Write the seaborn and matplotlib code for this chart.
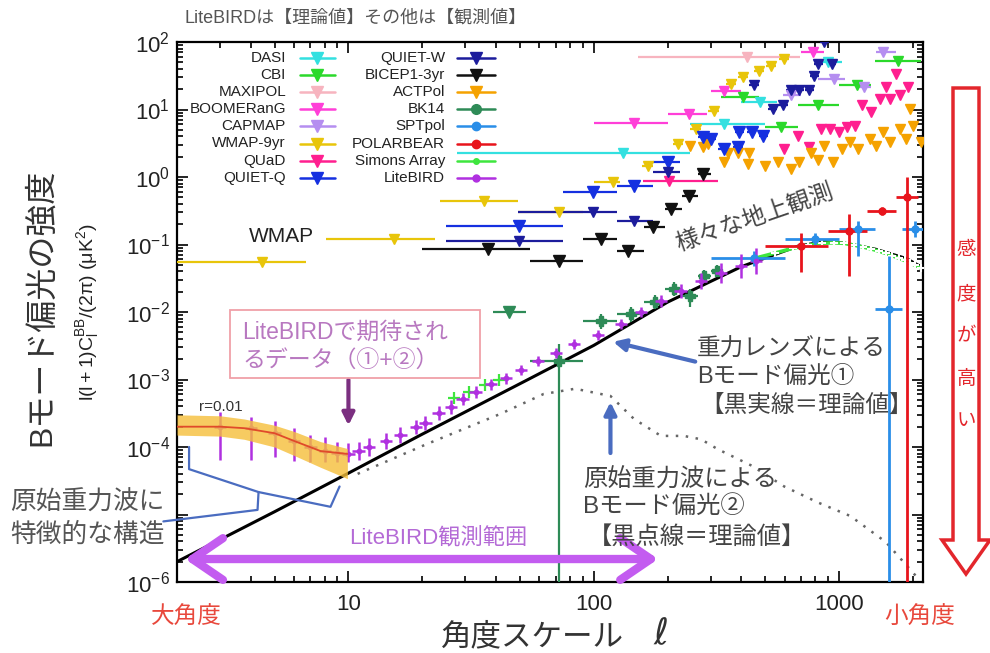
import numpy as np
import pandas as pd
import matplotlib
matplotlib.use("Agg")
import matplotlib.pyplot as plt
import seaborn as sns
from matplotlib.lines import Line2D
from matplotlib.patches import Rectangle, Polygon, FancyArrowPatch, ArrowStyle

# ------------------------------------------------------------------ data
# theory: lensing B-mode (solid) and primordial r=0.01 (dotted)
lens_ell = [2, 5, 10, 20, 54, 100, 200, 400, 683, 871, 1050, 1412, 1882, 2200]
lens_val = [2.0e-6, 1.1e-5, 4.1e-5, 1.55e-4, 1.0e-3, 3.2e-3, 0.014, 0.047, 0.095, 0.11, 0.105, 0.085, 0.062, 0.045]
prim_ell = [10.9, 20.8, 41.7, 62.5, 84, 117, 146, 188, 233, 274, 320, 440, 598, 823, 1112, 1553, 2070]
prim_val = [4e-5, 1.1e-4, 3.1e-4, 6.1e-4, 7.3e-4, 5.7e-4, 2.6e-4, 1.46e-4, 1.46e-4, 1.3e-4, 9.3e-5,
            5.3e-5, 2.6e-5, 1.5e-5, 9.5e-6, 3.9e-6, 1.2e-6]

# r=0.01 band at low ell
band_ell = [2, 3, 3.76, 5, 6, 7.7, 9.9]
band_mid = [2.0e-4, 2.0e-4, 1.9e-4, 1.6e-4, 1.23e-4, 8.7e-5, 7.9e-5]
band_hi = [3.0e-4, 2.9e-4, 2.6e-4, 2.1e-4, 1.7e-4, 1.2e-4, 9.5e-5]
band_lo = [1.5e-4, 1.45e-4, 1.3e-4, 1.0e-4, 7.5e-5, 5.0e-5, 3.4e-5]

# LiteBIRD expected band powers
lite_ell = [3, 4, 5, 6, 7, 8, 9, 10, 11, 12.1, 14.2, 16.3, 18.8, 20.6, 23.3, 26.1, 29.2, 33.0, 38.0,
            43.8, 50.4, 59.1, 70.0, 82.9, 104, 129, 156, 188, 226, 273, 330, 398, 458]
lite_val = [2.0e-4, 1.9e-4, 1.6e-4, 1.23e-4, 1.0e-4, 8.7e-5, 8.1e-5, 7.8e-5, 8.7e-5,
            1.0e-4, 1.23e-4, 1.51e-4, 1.98e-4, 2.27e-4, 3.19e-4, 3.92e-4, 5.14e-4, 6.53e-4, 8.57e-4,
            1.05e-3, 1.38e-3, 1.88e-3, 2.47e-3, 3.36e-3, 4.56e-3, 6.64e-3, 0.010, 0.0146, 0.0205,
            0.0288, 0.0378, 0.048, 0.057]
lite_lo = [6.5e-5, 6.5e-5, 7.2e-5, 6.2e-5, 6.0e-5, 6.0e-5, 6.0e-5, 6.0e-5, 6.5e-5,
           7.4e-5, 9.3e-5, 1.14e-4, 1.54e-4, 1.76e-4, 2.5e-4, 3.1e-4, 4.2e-4, 5.3e-4, 7.1e-4,
           8.7e-4, 1.17e-3, 1.6e-3, 2.1e-3, 2.86e-3, 3.9e-3, 5.65e-3, 0.0083, 0.0119, 0.0163,
           0.0218, 0.0268, 0.032, 0.036]
lite_hi = [3.3e-4, 2.8e-4, 2.4e-4, 1.9e-4, 1.5e-4, 1.4e-4, 1.2e-4, 1.15e-4, 1.2e-4,
           1.35e-4, 1.62e-4, 1.99e-4, 2.55e-4, 2.92e-4, 4.0e-4, 4.9e-4, 6.3e-4, 8.0e-4, 1.03e-3,
           1.26e-3, 1.62e-3, 2.2e-3, 2.9e-3, 3.95e-3, 5.4e-3, 7.8e-3, 0.012, 0.018, 0.0258,
           0.038, 0.053, 0.073, 0.09]
lite_bin_dex = 0.025

# Simons Array forecast
sa_low_ell = [27, 31, 36, 41]
sa_low_val = [5.4e-4, 6.5e-4, 8.2e-4, 1.0e-3]
sa_ell = [450, 550, 650, 750, 850, 950, 1050, 1150, 1250, 1350, 1450, 1550, 1650, 1750, 1850, 1950, 2050, 2150]
sa_val = [0.062, 0.075, 0.088, 0.098, 0.104, 0.106, 0.104, 0.098, 0.092, 0.086, 0.080, 0.074,
          0.068, 0.063, 0.058, 0.053, 0.049, 0.045]

# BK14
bk_ul_ell, bk_ul_lo, bk_ul_hi, bk_ul_val = [45], [39], [53], [0.01]
bk_ell = [72.5, 107.5, 142.5, 177.5, 212.5, 247.5, 282.5, 317.5]
bk_val = [1.9e-3, 7.4e-3, 9.3e-3, 0.014, 0.022, 0.017, 0.034, 0.041]
bk_lo = [1e-7, 5.6e-3, 7.2e-3, 0.011, 0.017, 0.012, 0.027, 0.033]
bk_hi = [3.4e-3, 9.5e-3, 0.012, 0.018, 0.028, 0.022, 0.042, 0.05]
bk_halfbin = 17.5

# SPTpol
spt_ell = [450, 800, 1200, 1600, 2050]
spt_ell_lo = [301, 601, 1001, 1401, 1801]
spt_ell_hi = [601, 1001, 1401, 1801, 2301]
spt_val = [0.063, 0.12, 0.17, 0.011, 0.17]
spt_lo = [0.048, 0.10, 0.068, 1e-7, 0.13]
spt_hi = [0.08, 0.15, 0.22, 0.068, 0.22]

# POLARBEAR
pb_ell = [700, 1100, 1500, 1900]
pb_ell_lo = [500, 900, 1300, 1700]
pb_ell_hi = [900, 1300, 1700, 2100]
pb_val = [0.095, 0.16, 0.31, 0.5]
pb_lo = [0.039, 0.034, 0.27, 1e-7]
pb_hi = [0.15, 0.28, 0.36, 1.0]

# upper limits (ell, ell_lo, ell_hi, value)
dasi_ell, dasi_lo, dasi_hi, dasi_val = [132, 340, 478, 906], [27.8, 248, 398, 823], [248, 500, 560, 1028], [2.3, 6.1, 12.9, 50]
cbi_ell, cbi_lo, cbi_hi, cbi_val = [406, 580, 823, 1187, 1742], [330, 497, 683, 999, 1398], [471, 683, 999, 1347, 2150], [15.3, 5.5, 11.6, 23, 52]
maxi_ell, maxi_lo, maxi_hi, maxi_val = [420], [151], [693], [60]
boom_ell, boom_lo, boom_hi, boom_val = [146, 244, 339, 785], [100, 200, 300, 702], [200, 290, 398, 871], [6.3, 8.6, 18.8, 71]
cap_ell, cap_lo, cap_hi, cap_val = [639, 952, 1270, 1510], [590, 823, 1187, 1412], [700, 1058, 1347, 1709], [16.4, 28, 21.5, 71]
wmap_ell = [4.45, 15.3, 35.8, 72, 120, 166, 220, 260, 308, 362, 406, 471, 528, 598]
wmap_lo = [2, 8.1, 23.7, 49, 100, 158, 210, 248, 293, 345, 387, 449, 503, 570]
wmap_hi = [6.7, 22.6, 49, 90, 128, 175, 231, 273, 323, 380, 426, 495, 554, 628]
wmap_val = [0.055, 0.12, 0.44, 0.30, 0.85, 1.47, 3.1, 5.2, 9.5, 24, 30, 37, 44, 56]
quad_ell = [202, 598, 683, 756, 847, 915, 999, 1079, 1164, 1245, 1347, 1467, 1553, 1612, 1709, 1776, 1918]
quad_lo = [159, 598, 683, 756, 847, 915, 999, 1079, 1164, 1245, 1347, 1467, 1553, 1612, 1709, 1776, 1918]
quad_hi = [320, 598, 683, 756, 847, 915, 999, 1079, 1164, 1245, 1347, 1467, 1553, 1612, 1709, 1776, 1918]
quad_val = [0.87, 2.6, 4.0, 2.8, 5.1, 5.1, 4.6, 5.5, 5.7, 11.6, 9.2, 14.3, 21.5, 14.3, 34, 16.4, 21.5]
qq_ell = [49.4, 99, 146, 200, 279, 300, 339, 387, 391, 440, 492]
qq_lo = [25, 75, 125, 175, 265, 285, 320, 370, 375, 420, 470]
qq_hi = [75, 125, 175, 225, 295, 315, 360, 405, 410, 460, 515]
qq_val = [0.19, 0.60, 0.74, 1.66, 3.9, 3.7, 2.6, 2.8, 4.6, 4.6, 4.0]
qw_ell = [49.4, 99, 146, 200, 449, 538, 592, 639, 689, 756, 793, 823, 933, 871]
qw_lo = [25, 49, 125, 175, 430, 515, 565, 610, 660, 725, 760, 790, 895, 835]
qw_hi = [75, 125, 175, 225, 470, 560, 620, 670, 720, 790, 825, 860, 975, 910]
qw_val = [0.113, 0.30, 0.22, 1.18, 23, 10.2, 11.6, 19.4, 19.4, 19.4, 31, 47, 47, 100]
bicep_ell = [37.2, 72, 107, 138, 174, 206, 244, 279]
bicep_lo = [20, 55, 90, 125, 160, 195, 230, 265]
bicep_hi = [55, 90, 125, 160, 195, 230, 265, 300]
bicep_val = [0.086, 0.057, 0.12, 0.08, 0.18, 0.34, 0.52, 1.1]
act_ell = [248, 279, 292, 339, 352, 387, 427, 431, 497, 565, 639, 689, 770, 823, 871, 942, 1028, 1110,
           1200, 1333, 1412, 1510, 1612, 1776, 1882, 1955, 2012, 2150]
act_val = [2.9, 2.8, 3.1, 1.65, 2.3, 2.3, 1.56, 2.3, 1.47, 1.65, 1.3, 1.65, 2.3, 1.8, 2.9, 1.66, 2.6, 3.3,
           2.6, 3.7, 2.9, 4.6, 3.3, 5.1, 3.7, 10.2, 5.7, 3.3]

legend_col1 = ["DASI", "CBI", "MAXIPOL", "BOOMERanG", "CAPMAP", "WMAP-9yr", "QUaD", "QUIET-Q"]
legend_col2 = ["QUIET-W", "BICEP1-3yr", "ACTPol", "BK14", "SPTpol", "POLARBEAR", "Simons Array", "LiteBIRD"]
x_ticks = [10, 100, 1000]
x_ticklabels = ["10", "100", "1000"]
y_ticks = [1e-6, 1e-5, 1e-4, 1e-3, 1e-2, 1e-1, 1e0, 1e1, 1e2]
y_ticklabels = ["$10^{-6}$", "", "$10^{-4}$", "$10^{-3}$", "$10^{-2}$", "$10^{-1}$", "$10^{0}$", "$10^{1}$", "$10^{2}$"]

# ------------------------------------------------------------------ style
C = {
    "DASI": "#33e0e0", "CBI": "#2bd92b", "MAXIPOL": "#f7b4bf", "BOOMERanG": "#ff3fd8",
    "CAPMAP": "#b58ef0", "WMAP-9yr": "#e8c50a", "QUaD": "#ff1f8f", "QUIET-Q": "#1530e0",
    "QUIET-W": "#1c1c9c", "BICEP1-3yr": "#111111", "ACTPol": "#f5a200", "BK14": "#2e8b57",
    "SPTpol": "#2a8ee8", "POLARBEAR": "#e8141c", "Simons Array": "#3ee63e", "LiteBIRD": "#b030e0",
}
MK = {k: "v" for k in C}
for k in ["BK14", "SPTpol", "POLARBEAR", "Simons Array", "LiteBIRD"]:
    MK[k] = "o"

sns.set_style("ticks")
plt.rcParams["font.family"] = ["Liberation Sans", "Noto Sans CJK JP", "DejaVu Sans"]
plt.rcParams["mathtext.fontset"] = "custom"
plt.rcParams["mathtext.rm"] = "Liberation Sans"
plt.rcParams["mathtext.it"] = "Liberation Sans:italic"
plt.rcParams["mathtext.default"] = "regular"

W, H = 990, 653
fig = plt.figure(figsize=(W / 100, H / 100), dpi=100)
ax = fig.add_axes([177 / W, 1 - 582 / H, (923 - 177) / W, (582 - 42) / H])
ax.set_xscale("log")
ax.set_yscale("log")
ax.set_xlim(2, 2200)
ax.set_ylim(1e-6, 1e2)


def fp(x, y):
    return (x / W, 1 - y / H)


def upper(ell, lo, hi, val, name, ms=7.5, z=3):
    e = np.asarray(ell, float)
    l = np.asarray(lo, float)
    h = np.asarray(hi, float)
    ax.errorbar(e, val, xerr=[e - l, h - e], fmt="v", color=C[name], ms=ms, lw=1.6,
                capsize=0, zorder=z, clip_on=True)


upper(maxi_ell, maxi_lo, maxi_hi, maxi_val, "MAXIPOL")
upper(dasi_ell, dasi_lo, dasi_hi, dasi_val, "DASI")
upper(cbi_ell, cbi_lo, cbi_hi, cbi_val, "CBI")
upper(boom_ell, boom_lo, boom_hi, boom_val, "BOOMERanG")
upper(cap_ell, cap_lo, cap_hi, cap_val, "CAPMAP")
upper(wmap_ell, wmap_lo, wmap_hi, wmap_val, "WMAP-9yr")
upper(quad_ell, quad_lo, quad_hi, quad_val, "QUaD")
ax.errorbar(act_ell, act_val, fmt="v", color=C["ACTPol"], ms=7.5, zorder=3)
upper(qq_ell, qq_lo, qq_hi, qq_val, "QUIET-Q", ms=8.5)
upper(qw_ell, qw_lo, qw_hi, qw_val, "QUIET-W")
upper(bicep_ell, bicep_lo, bicep_hi, bicep_val, "BICEP1-3yr", ms=8.5)
upper(bk_ul_ell, bk_ul_lo, bk_ul_hi, bk_ul_val, "BK14", ms=8.5)

# theory curves (seaborn)
lens_df = pd.DataFrame({"ell": lens_ell, "D": lens_val})
prim_df = pd.DataFrame({"ell": prim_ell, "D": prim_val})
sns.lineplot(data=lens_df, x="ell", y="D", ax=ax, color="black", lw=2.2, zorder=5)
sns.lineplot(data=prim_df, x="ell", y="D", ax=ax, color="#666666", lw=1.8,
             linestyle=(0, (1, 3)), zorder=5)

# measurements
bk_e = np.asarray(bk_ell)
bk_v = np.asarray(bk_val)
ax.errorbar(bk_e, bk_v, xerr=bk_halfbin, yerr=[bk_v - np.asarray(bk_lo), np.asarray(bk_hi) - bk_v],
            fmt="P", color=C["BK14"], ms=7, lw=1.6, capsize=0, zorder=6)

sa_df = pd.DataFrame({"ell": sa_ell, "D": sa_val})
sns.lineplot(data=sa_df, x="ell", y="D", ax=ax, color=C["Simons Array"], lw=2.6, zorder=6,
             marker="+", markersize=6, mew=1.5)
ax.errorbar(sa_low_ell, sa_low_val, fmt="+", color=C["Simons Array"], ms=8, mew=1.6, zorder=6)

sp_e = np.asarray(spt_ell, float)
sp_v = np.asarray(spt_val)
ax.errorbar(sp_e, sp_v, xerr=[sp_e - np.asarray(spt_ell_lo), np.asarray(spt_ell_hi) - sp_e],
            yerr=[sp_v - np.asarray(spt_lo), np.asarray(spt_hi) - sp_v],
            fmt="o", color=C["SPTpol"], ms=5, lw=2.0, capsize=0, zorder=7)
pb_e = np.asarray(pb_ell, float)
pb_v = np.asarray(pb_val)
ax.errorbar(pb_e, pb_v, xerr=[pb_e - np.asarray(pb_ell_lo), np.asarray(pb_ell_hi) - pb_e],
            yerr=[pb_v - np.asarray(pb_lo), np.asarray(pb_hi) - pb_v],
            fmt="o", color=C["POLARBEAR"], ms=5, lw=2.0, capsize=0, zorder=7)

le = np.asarray(lite_ell, float)
lv = np.asarray(lite_val)
ax.errorbar(le, lv, xerr=[le - le / 10 ** lite_bin_dex, le * 10 ** lite_bin_dex - le],
            yerr=[lv - np.asarray(lite_lo), np.asarray(lite_hi) - lv],
            fmt="o", color=C["LiteBIRD"], ms=3.2, lw=1.8, capsize=0, zorder=7)

# r=0.01 band on top
ax.fill_between(band_ell, band_lo, band_hi, color="#f5bf3a", alpha=0.8, lw=0, zorder=8)
ax.plot(band_ell, band_mid, color="#e04a2a", lw=1.3, zorder=9)

# ------------------------------------------------------------------ axes cosmetics
for s in ax.spines.values():
    s.set_linewidth(1.6)
    s.set_color("black")
ax.set_xticks(x_ticks)
ax.set_xticklabels(x_ticklabels)
ax.set_yticks(y_ticks)
ax.set_yticklabels(y_ticklabels)
ax.yaxis.set_minor_formatter(matplotlib.ticker.NullFormatter())
ax.xaxis.set_minor_formatter(matplotlib.ticker.NullFormatter())
ax.tick_params(which="both", direction="in", top=True, right=True, color="black", width=1.2)
ax.tick_params(which="major", length=8, labelsize=16, labelcolor="#222222")
ax.tick_params(which="minor", length=4)
ax.tick_params(axis="x", which="major", pad=9)
ax.tick_params(axis="y", which="major", pad=5)
ax.set_xlabel("")
ax.set_ylabel("")

# ------------------------------------------------------------------ legend (manual)
for col, xr, xs0, xs1, xm in [(legend_col1, 286, 300, 335, 317), (legend_col2, 445, 457, 495, 476)]:
    for i, name in enumerate(col):
        y = 58 + i * 17.1
        fig.text(*fp(xr, y), name, ha="right", va="center", fontsize=11, color="#222222")
        fig.add_artist(Line2D([xs0 / W, xs1 / W], [fp(0, y)[1]] * 2, color=C[name], lw=1.8))
        ms = {"Simons Array": 4, "LiteBIRD": 5, "SPTpol": 6, "POLARBEAR": 6, "BK14": 7}.get(name, 8)
        fig.add_artist(Line2D([xm / W], [fp(0, y)[1]], marker=MK[name], color=C[name], ms=ms, lw=0))

# ------------------------------------------------------------------ annotations
gray = "#444444"
blue = "#4a6cc0"
fig.text(*fp(185, 18), "LiteBIRDは【理論値】その他は【観測値】", ha="left", va="center", fontsize=13, color="#555555")
fig.text(*fp(42, 307), "Bモード偏光の強度", rotation=90, ha="center", va="center", fontsize=23, color="#333333")
fig.text(*fp(88, 312), r"$l(l+1)C_l^{BB}/(2\pi)\ (\mu K^2)$", rotation=90, ha="center", va="center",
         fontsize=14, color="#222222")
fig.text(*fp(281, 236), "WMAP", ha="center", va="center", fontsize=15, color="#222222")
fig.text(*fp(755, 218), "様々な地上観測", rotation=19, ha="center", va="center", fontsize=17, color=gray)
fig.text(*fp(199, 407), "r=0.01", ha="left", va="center", fontsize=11, color="#333333", zorder=20)

# LiteBIRD box
fig.add_artist(Rectangle(fp(230, 378), 250 / W, 68 / H, transform=fig.transFigure, fill=False,
                         ec="#f0a0a8", lw=1.3))
fig.text(*fp(242, 332), "LiteBIRDで期待され", ha="left", va="center", fontsize=16.5, color="#b878c0")
fig.text(*fp(242, 360), "るデータ（①+②）", ha="left", va="center", fontsize=16.5, color="#b878c0")
ax.annotate("", xy=(10, 1.9e-4), xytext=(10, 1.09e-3),
            arrowprops=dict(arrowstyle="-|>", color="#7b2f80", lw=3, mutation_scale=18), zorder=12)

# lensing annotation
ax.annotate("", xy=(117, 3.7e-3), xytext=(266, 1.8e-3),
            arrowprops=dict(arrowstyle="-|>", color=blue, lw=3, mutation_scale=18), zorder=12)
fig.text(*fp(697, 350), "重力レンズによる", ha="left", va="center", fontsize=17, color=gray)
fig.text(*fp(697, 377), "Bモード偏光①", ha="left", va="center", fontsize=17, color=gray)
fig.text(*fp(700, 406), "【黒実線＝理論値】", ha="left", va="center", fontsize=17, color=gray)

# primordial annotation
ax.annotate("", xy=(117, 5.1e-4), xytext=(117, 7.4e-5),
            arrowprops=dict(arrowstyle="-|>", color=blue, lw=3, mutation_scale=18), zorder=12)
fig.text(*fp(583, 480), "原始重力波による", ha="left", va="center", fontsize=17.5, color=gray)
fig.text(*fp(583, 507), "Bモード偏光②", ha="left", va="center", fontsize=17.5, color=gray)
fig.text(*fp(588, 537), "【黒点線＝理論値】", ha="left", va="center", fontsize=17.5, color=gray)

# characteristic structure + brace
fig.text(*fp(10, 503), "原始重力波に", ha="left", va="center", fontsize=18.5, color="#555555")
fig.text(*fp(10, 535), "特徴的な構造", ha="left", va="center", fontsize=18.5, color="#555555")
ax.plot([2.24, 2.24, 4.3, 8.45, 9.2], [1.0e-4, 4.7e-5, 2.15e-5, 1.3e-5, 2.6e-5], color=blue, lw=1.6, zorder=11)
ax.plot([4.3, 4.26, 1.76], [2.15e-5, 1.17e-5, 7.9e-6], color=blue, lw=1.6, zorder=11, clip_on=False)

# LiteBIRD range double arrow
arr = FancyArrowPatch((2.1, 2.19e-6), (188, 2.19e-6),
                      arrowstyle=ArrowStyle("<->", head_length=1.1, head_width=0.75),
                      mutation_scale=20, lw=6, color="#c35cf0", zorder=13, clip_on=False)
ax.add_patch(arr)
fig.text(*fp(438, 538), "LiteBIRD観測範囲", ha="center", va="center", fontsize=16, color="#b46ad6")

# scale labels
fig.text(*fp(186, 618), "大角度", ha="center", va="center", fontsize=17, color="#e8483c")
fig.text(*fp(920, 618), "小角度", ha="center", va="center", fontsize=17, color="#e8483c")
fig.text(*fp(532, 637), "角度スケール", ha="center", va="center", fontsize=22, color="#333333")
fig.text(*fp(661, 634), "ℓ", ha="center", va="center", fontsize=26, color="#333333",
         family=["DejaVu Sans", "Noto Sans CJK JP"])

# red hollow arrow + sensitivity text
pts = [(953, 88), (979, 88), (979, 540), (990, 540), (966, 574), (942, 540), (953, 540)]
fig.add_artist(Polygon([fp(x, y) for x, y in pts], closed=True, transform=fig.transFigure,
                       fc="white", ec="#e3262c", lw=2.5))
for ch, yy in zip("感度が高い", [250, 295, 337, 379, 422]):
    fig.text(*fp(966, yy), ch, ha="center", va="center", fontsize=14, color="#e3262c")

fig.savefig("out.png", dpi=100)
